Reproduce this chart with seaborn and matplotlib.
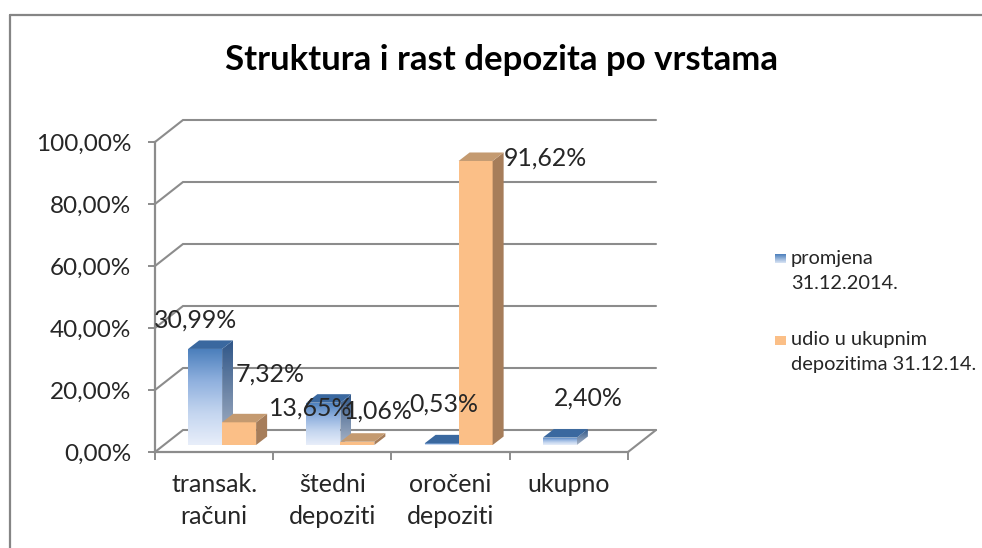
import numpy as np
import pandas as pd
import seaborn as sns
import matplotlib
matplotlib.use("Agg")
import matplotlib.pyplot as plt
from matplotlib.colors import LinearSegmentedColormap
from matplotlib.lines import Line2D
from matplotlib.patches import Polygon
from matplotlib.transforms import Affine2D, IdentityTransform

categories = ["transak.\nračuni", "štedni\ndepoziti", "oročeni\ndepoziti", "ukupno"]
series_names = ["promjena\n31.12.2014.", "udio u ukupnim\ndepozitima 31.12.14."]
promjena = [30.99, 13.65, 0.53, 2.40]
udio = [7.32, 1.06, 91.62, np.nan]
y_ticks = [0, 20, 40, 60, 80, 100]
y_tick_labels = ["0,00%", "20,00%", "40,00%", "60,00%", "80,00%", "100,00%"]
title = "Struktura i rast depozita po vrstama"

W, H = 982, 548
FONT = "Lato"
TXT = "#262626"
GRID = "#8c8c8c"
ORANGE = "#FBBF87"
sns.set_theme(style="white")
plt.rcParams["font.family"] = [FONT, "DejaVu Sans"]

df = pd.DataFrame({
    "kategorija": categories * 2,
    "serija": [series_names[0]] * 4 + [series_names[1]] * 4,
    "vrijednost": promjena + udio,
})

fig = plt.figure(figsize=(W / 100, H / 100), dpi=100, facecolor="white")
ax = fig.add_axes([155 / W, (H - 452) / H, 473 / W, 310 / H], facecolor="none")
sns.barplot(data=df, x="kategorija", y="vrijednost", hue="serija", order=categories,
            hue_order=series_names, palette=["#7ea3d3", ORANGE], width=68 / 118.25,
            gap=0, dodge=True, errorbar=None, legend=False, linewidth=0, saturation=1, ax=ax)
ax.set_xlim(-0.5, 3.5)
ax.set_ylim(0, 100)
ax.set_xlabel("")
ax.set_ylabel("")
ax.set_yticks(y_ticks, y_tick_labels)
ax.tick_params(axis="y", labelsize=17.5, labelcolor=TXT, length=5, width=1.4, color=GRID,
               left=True, pad=12)
ax.set_xticks(np.arange(-0.5, 4.0), minor=True)
ax.tick_params(axis="x", which="minor", length=6, width=1.4, color=GRID, bottom=True)
ax.tick_params(axis="x", which="major", length=0, labelsize=18, labelcolor=TXT, pad=15)
for t in ax.get_xticklabels():
    t.set_linespacing(1.5)
for s in ("top", "right"):
    ax.spines[s].set_visible(False)
for s in ("left", "bottom"):
    ax.spines[s].set_color(GRID)
    ax.spines[s].set_linewidth(1.6)

# depth of the back wall and of the bars, in pixels
WALL = np.array([28.0, 22.0])
BAR_SHIFT = np.array([8.0, 7.0])
BAR_DEPTH = np.array([11.0, 8.5])

to_px = ax.transData.transform
for v in y_ticks:
    a = to_px((-0.5, v))
    b = to_px((3.5, v))
    xs = [a[0], a[0] + WALL[0], b[0] + WALL[0]]
    ys = [a[1], a[1] + WALL[1], b[1] + WALL[1]]
    ax.add_line(Line2D(xs, ys, color=GRID, lw=1.5, transform=IdentityTransform(),
                       clip_on=False, zorder=1, solid_joinstyle="miter"))
a = to_px((3.5, 0))
ax.add_line(Line2D([a[0], a[0] + WALL[0]], [a[1], a[1] + WALL[1]], color=GRID, lw=1.5,
                   transform=IdentityTransform(), clip_on=False, zorder=1))

blue_front = LinearSegmentedColormap.from_list("bf", ["#e8eefa", "#c3d5ef", "#8fb0de", "#4a7ebb"])
blue_side = LinearSegmentedColormap.from_list("bs", ["#aab6c8", "#6f87a8", "#2f5688"])
BLUE_TOP = "#3a689f"
OR_SIDE = "#a67d5a"
OR_TOP = "#c49a70"


def gradient(verts, cmap, z):
    verts = np.asarray(verts)
    x0, y0 = verts.min(axis=0)
    x1, y1 = verts.max(axis=0)
    im = ax.imshow(np.linspace(0, 1, 128)[:, None], cmap=cmap, origin="lower", aspect="auto",
                   extent=(x0, x1, y0, y1), transform=IdentityTransform(), zorder=z,
                   interpolation="bilinear")
    im.set_clip_path(Polygon(verts, closed=True, transform=IdentityTransform()))
    im.set_clip_box(fig.bbox)


def flat(verts, color, z):
    ax.add_patch(Polygon(verts, closed=True, facecolor=color, edgecolor="none",
                         transform=IdentityTransform(), zorder=z, clip_on=False))


# offsets of the value labels from the top of each bar, in pixels
label_offsets = {
    (0, 0): (-2, 36), (0, 1): (-5, 2), (0, 2): (10, 46), (0, 3): (36, 46),
    (1, 0): (39, 55), (1, 1): (29, 38), (1, 2): (78, 10),
}

for s_idx, container in enumerate(ax.containers):
    for bar in container:
        h = bar.get_height()
        if not np.isfinite(h) or h <= 0:
            continue
        cx = bar.get_x() + bar.get_width() / 2
        cat = int(round(cx))
        z = 5 + cat * 2 + s_idx * 0.5
        p0 = to_px((bar.get_x(), 0)) + BAR_SHIFT
        p1 = to_px((bar.get_x() + bar.get_width(), h)) + BAR_SHIFT
        x0, y0, x1, y1 = p0[0], p0[1], p1[0], p1[1]
        dx, dy = BAR_DEPTH
        side = [(x1, y0), (x1 + dx, y0 + dy), (x1 + dx, y1 + dy), (x1, y1)]
        top = [(x0, y1), (x1, y1), (x1 + dx, y1 + dy), (x0 + dx, y1 + dy)]
        front = [(x0, y0), (x1, y0), (x1, y1), (x0, y1)]
        if s_idx == 0:
            bar.set_visible(False)
            gradient(front, blue_front, z)
            gradient(side, blue_side, z)
            flat(top, BLUE_TOP, z + 0.1)
        else:
            bar.set_zorder(z)
            bar.set_transform(ax.transData + Affine2D().translate(*BAR_SHIFT))
            bar.set_clip_on(False)
            flat(side, OR_SIDE, z)
            flat(top, OR_TOP, z + 0.1)
        ax.annotate(f"{h:.2f}%".replace(".", ","), xy=(cx, h), xycoords="data",
                    xytext=label_offsets[(s_idx, cat)], textcoords="offset pixels",
                    ha="center", va="center", fontsize=17.9, color=TXT, zorder=30,
                    annotation_clip=False)

# legend: swatch next to the first line of each two-line entry
legend_top = [263, 345]
gradient([(775, H - legend_top[0]), (786, H - legend_top[0]),
          (786, H - legend_top[0] + 9), (775, H - legend_top[0] + 9)],
         LinearSegmentedColormap.from_list("lg", ["#dbe5f5", "#4a7ebb"]), 40)
flat([(775, H - legend_top[1]), (786, H - legend_top[1]),
      (786, H - legend_top[1] + 9), (775, H - legend_top[1] + 9)], ORANGE, 40)
for name, y_c in zip(series_names, [271, 352]):
    fig.text(791 / W, (H - y_c) / H, name, ha="left", va="center", fontsize=14.4,
             color=TXT, linespacing=1.55)

ax.set_xlim(-0.5, 3.5)
ax.set_ylim(0, 100)

fig.text(501 / W, (H - 60) / H, title, ha="center", va="center", fontsize=25,
         fontweight="bold", color="black")

# chart frame
for xs, ys in (([9.5, 9.5], [0, H - 14.5]), ([9.5, W], [H - 14.5, H - 14.5])):
    fig.add_artist(Line2D(np.array(xs) / W, np.array(ys) / H, color="#858585", lw=1.6,
                          transform=fig.transFigure))

fig.savefig("out.png", dpi=100, facecolor="white")
